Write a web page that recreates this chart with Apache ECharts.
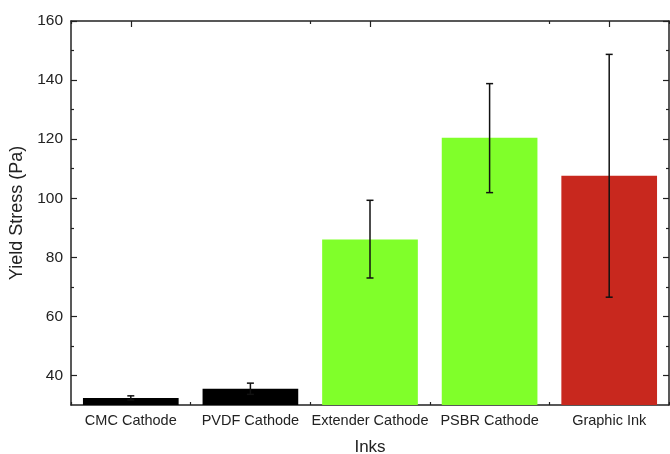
<!DOCTYPE html>
<html>
<head>
<meta charset="utf-8">
<script src="https://cdn.jsdelivr.net/npm/echarts@6/dist/echarts.min.js"></script>
<style>html,body{margin:0;padding:0;background:#fff;}#c{width:670px;height:454px;}</style>
</head>
<body>
<div id="c"></div>
<script>
var categories = ['CMC Cathode', 'PVDF Cathode', 'Extender Cathode', 'PSBR Cathode', 'Graphic Ink'];
var values = [32.4, 35.5, 86.0, 120.5, 107.6];
var errLow = [31.7, 33.6, 73.0, 101.9, 66.5];
var errHigh = [33.1, 37.4, 99.3, 138.8, 148.7];
var barColors = ['#000000', '#000000', '#80FF2A', '#80FF2A', '#C8281E'];
var yMajor = [40, 60, 80, 100, 120, 140, 160];
var yMinor = [50, 70, 90, 110, 130, 150];

var FONT = '"Liberation Sans", Arial, sans-serif';
var LINE = { show: true, lineStyle: { color: '#222', width: 1.5 } };

var chart = echarts.init(document.getElementById('c'), null, { renderer: 'canvas' });
var errData = categories.map(function (c, i) { return [i, errLow[i], errHigh[i]]; });

chart.setOption({
  animation: false,
  grid: { left: 71, right: 1, top: 21, bottom: 49, containLabel: false, outerBoundsMode: 'none' },
  xAxis: [
    {
      type: 'category', data: categories, position: 'bottom',
      axisLine: LINE,
      axisTick: { show: true, inside: true, length: 3, lineStyle: { color: '#222', width: 1.2 } },
      axisLabel: { color: '#222', fontSize: 14.5, fontFamily: FONT, margin: 8, interval: 0 },
      name: 'Inks', nameLocation: 'middle', nameGap: 34,
      nameTextStyle: { color: '#222', fontSize: 17, fontFamily: FONT }
    },
    {
      type: 'category', data: categories, position: 'top',
      axisLine: LINE,
      axisTick: { show: true, inside: true, alignWithLabel: true, length: 6, lineStyle: { color: '#222', width: 1.2 } },
      axisLabel: { show: false }
    },
    {
      type: 'category', data: categories, position: 'top',
      axisLine: { show: false },
      axisTick: { show: true, inside: true, length: 3, lineStyle: { color: '#222', width: 1.2 } },
      axisLabel: { show: false }
    }
  ],
  yAxis: [
    {
      type: 'value', min: 30, max: 160, position: 'left',
      axisLine: LINE,
      splitLine: { show: false },
      axisTick: { show: true, inside: true, length: 6, customValues: yMajor, lineStyle: { color: '#222', width: 1.2 } },
      axisLabel: { color: '#222', fontSize: 15.5, fontFamily: FONT, margin: 8, customValues: yMajor },
      name: 'Yield Stress (Pa)', nameLocation: 'middle', nameGap: 41,
      nameTextStyle: { color: '#222', fontSize: 18, fontFamily: FONT }
    },
    {
      type: 'value', min: 30, max: 160, position: 'left',
      axisLine: { show: false }, splitLine: { show: false },
      axisTick: { show: true, inside: true, length: 3, customValues: yMinor, lineStyle: { color: '#222', width: 1.2 } },
      axisLabel: { show: false }
    },
    {
      type: 'value', min: 30, max: 160, position: 'right',
      axisLine: LINE, splitLine: { show: false },
      axisTick: { show: true, inside: true, length: 6, customValues: yMajor, lineStyle: { color: '#222', width: 1.2 } },
      axisLabel: { show: false }
    },
    {
      type: 'value', min: 30, max: 160, position: 'right',
      axisLine: { show: false }, splitLine: { show: false },
      axisTick: { show: true, inside: true, length: 3, customValues: yMinor, lineStyle: { color: '#222', width: 1.2 } },
      axisLabel: { show: false }
    }
  ],
  series: [
    {
      type: 'bar', xAxisIndex: 0, yAxisIndex: 0,
      barCategoryGap: '20%',
      data: values.map(function (v, i) { return { value: v, itemStyle: { color: barColors[i] } }; }),
      z: 1
    },
    {
      type: 'custom', xAxisIndex: 0, yAxisIndex: 0,
      data: errData,
      z: 5,
      renderItem: function (params, api) {
        var x = api.value(0);
        var lo = api.coord([x, api.value(1)]);
        var hi = api.coord([x, api.value(2)]);
        var hw = 3.5;
        var st = { stroke: '#111', lineWidth: 1.5 };
        return {
          type: 'group',
          children: [
            { type: 'line', shape: { x1: hi[0], y1: hi[1], x2: lo[0], y2: lo[1] }, style: st },
            { type: 'line', shape: { x1: hi[0] - hw, y1: hi[1], x2: hi[0] + hw, y2: hi[1] }, style: st },
            { type: 'line', shape: { x1: lo[0] - hw, y1: lo[1], x2: lo[0] + hw, y2: lo[1] }, style: st }
          ]
        };
      }
    }
  ]
});
</script>
</body>
</html>
